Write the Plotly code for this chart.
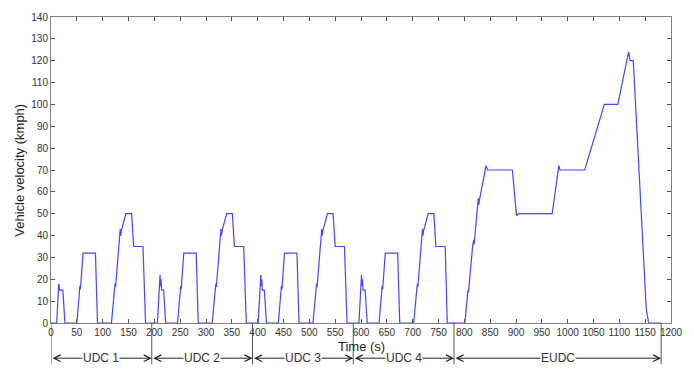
import plotly.graph_objects as go

# Time (s) and vehicle velocity (kmph) (NEDC cycle)
time_s = [
    0, 11, 15, 17, 23, 27, 50, 55, 56, 57, 62, 86, 90, 117, 123, 124, 125, 134, 135, 136, 145, 156, 160, 178, 183,
    195, 206, 211, 212, 213, 214, 218, 222, 245, 250, 251, 252, 257, 281, 285, 312, 318, 319, 320, 329, 330, 331, 340, 351, 355, 373, 378,
    390, 401, 406, 407, 408, 409, 413, 417, 440, 445, 446, 447, 452, 476, 480, 507, 513, 514, 515, 524, 525, 526, 535, 546, 550, 568, 573,
    585, 596, 601, 602, 603, 604, 608, 612, 635, 640, 641, 642, 647, 671, 675, 702, 708, 709, 710, 719, 720, 721, 730, 741, 745, 763, 767,
    780, 801, 807, 808, 816, 818, 819, 827, 828, 829, 842, 845, 893, 901, 905, 970, 983, 985, 1033, 1071, 1097, 1118, 1121, 1127, 1152, 1153, 1157, 1181,
]
speed_kmph = [
    0, 0, 18, 15, 15, 0, 0, 15, 17, 15.5, 32, 32, 0, 0, 16, 18, 16.5, 43, 40, 42, 50, 50, 35, 35, 0,
    0, 0, 22, 17, 20, 15, 15, 0, 0, 15, 17, 15.5, 32, 32, 0, 0, 16, 18, 16.5, 43, 40, 42, 50, 50, 35, 35, 0,
    0, 0, 22, 17, 20, 15, 15, 0, 0, 15, 17, 15.5, 32, 32, 0, 0, 16, 18, 16.5, 43, 40, 42, 50, 50, 35, 35, 0,
    0, 0, 22, 17, 20, 15, 15, 0, 0, 15, 17, 15.5, 32, 32, 0, 0, 16, 18, 16.5, 43, 40, 42, 50, 50, 35, 35, 0,
    0, 0, 15, 14, 35, 38, 36, 57, 54, 56, 72, 70, 70, 49, 50, 50, 72, 70, 70, 100, 100, 124, 120, 120, 7, 5, 0, 0,
]

# Phase boundaries (s) and phase labels
phase_bounds = [0, 195, 390, 585, 780, 1181]
phase_labels = ["UDC 1", "UDC 2", "UDC 3", "UDC 4", "EUDC"]

x_ticks = list(range(0, 1201, 50))
y_ticks = list(range(0, 141, 10))

FONT = "Arial, Liberation Sans, sans-serif"
GRAY = "#808080"

fig = go.Figure()
fig.add_trace(go.Scatter(
    x=time_s, y=speed_kmph, mode="lines",
    line=dict(color="rgb(70,70,255)", width=1.2),
    showlegend=False, hoverinfo="skip",
))

axis_common = dict(
    showgrid=False, zeroline=False, showline=True, linecolor=GRAY, linewidth=1,
    mirror="ticks", ticks="inside", ticklen=4, tickcolor="#555",
    tickfont=dict(family=FONT, size=10, color="#333"),
)
fig.update_xaxes(range=[0, 1200], tickvals=x_ticks, **axis_common)
fig.update_yaxes(range=[0, 140], tickvals=y_ticks, **axis_common)

shapes = []
annotations = []
y_arrow = -0.115
for b in phase_bounds:
    shapes.append(dict(type="line", xref="x", yref="paper", x0=b, x1=b, y0=0, y1=-0.135,
                       line=dict(color="#555", width=1)))
for i, lab in enumerate(phase_labels):
    a, b = phase_bounds[i], phase_bounds[i + 1]
    annotations.append(dict(
        xref="x", yref="paper", x=b, y=y_arrow, axref="x", ayref="pixel", ax=a, ay=0,
        text="", showarrow=True, arrowhead=5, startarrowhead=5, arrowside="end+start",
        arrowsize=1.3, startarrowsize=1.3, arrowwidth=1, arrowcolor="#222", standoff=0, startstandoff=0,
    ))
    annotations.append(dict(
        xref="x", yref="paper", x=(a + b) / 2, y=y_arrow, text=lab, showarrow=False,
        bgcolor="white", borderpad=0, font=dict(family=FONT, size=12, color="#333"),
        yanchor="middle",
    ))

annotations.append(dict(xref="paper", yref="paper", x=0.5, y=-0.078, text="Time (s)", showarrow=False,
                        font=dict(family=FONT, size=13, color="#222"), yanchor="middle"))
annotations.append(dict(xref="paper", yref="paper", x=-0.052, y=0.5, text="Vehicle velocity (kmph)",
                        showarrow=False, textangle=-90,
                        font=dict(family=FONT, size=13, color="#222"), xanchor="center", yanchor="middle"))

fig.update_layout(
    width=694, height=369,
    margin=dict(l=51, r=21, t=11, b=46),
    paper_bgcolor="white", plot_bgcolor="white",
    shapes=shapes, annotations=annotations,
)

fig.write_html("out.html")
